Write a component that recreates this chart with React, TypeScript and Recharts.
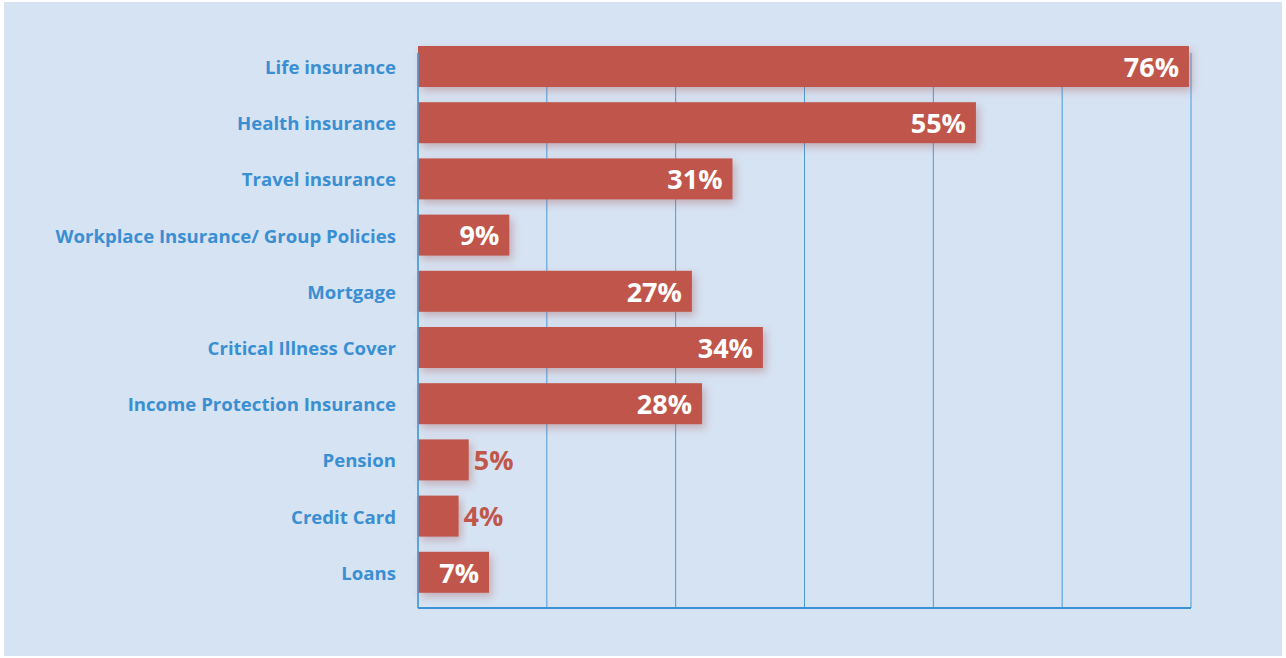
import { BarChart, Bar, XAxis, YAxis, CartesianGrid, LabelList } from 'recharts'

const categories = [
  'Life insurance',
  'Health insurance',
  'Travel insurance',
  'Workplace Insurance/ Group Policies',
  'Mortgage',
  'Critical Illness Cover',
  'Income Protection Insurance',
  'Pension',
  'Credit Card',
  'Loans',
]
const shares = [76, 55, 31, 9, 27, 34, 28, 5, 4, 7]
const gridTicks = [0, 12.7, 25.4, 38.1, 50.8, 63.5, 76.2]

const BAR = '#c0574b'
const BLUE = '#3a8fd2'
const GRID = '#4a9bd8'
const FONT = '"Open Sans", "DejaVu Sans", sans-serif'

const data = categories.map((name, i) => ({ name, value: shares[i] }))

function BarShape(props: any) {
  const { x, y, width, height } = props
  return <rect x={x} y={y} width={width} height={height} fill={BAR} filter="url(#barShadow)" />
}

function ValueLabel(props: any) {
  const { x, y, width, height, value } = props
  const inside = value >= 7
  const cy = y + height / 2
  return (
    <text
      x={inside ? x + width - 10 : x + width + 5}
      y={cy}
      dy="0.38em"
      textAnchor={inside ? 'end' : 'start'}
      fill={inside ? '#ffffff' : BAR}
      fontSize={27}
      fontWeight={700}
      fontFamily={FONT}
    >
      {value}%
    </text>
  )
}

function CategoryTick(props: any) {
  const { x, y, payload } = props
  return (
    <text x={x} y={y} dy="0.42em" textAnchor="end" fill={BLUE} fontSize={18.6} fontWeight={700} fontFamily={FONT}>
      {payload.value}
    </text>
  )
}

export default function App() {
  return (
    <div style={{ position: 'absolute', left: 0, top: 0, width: 1286, height: 658, background: '#ffffff' }}>
      <div style={{ position: 'absolute', left: 4, top: 2, width: 1278, height: 654, background: '#d6e3f3' }} />
      <div style={{ position: 'absolute', left: 0, top: 0 }}>
        <BarChart
          width={1286}
          height={658}
          data={data}
          layout="vertical"
          margin={{ top: 53, right: 95, bottom: 30, left: 18 }}
        >
          <defs>
            <filter id="barShadow" x="-10%" y="-30%" width="130%" height="180%">
              <feDropShadow dx="3" dy="4" stdDeviation="4" floodColor="#a04848" floodOpacity="0.35" />
            </filter>
          </defs>
          <CartesianGrid horizontal={false} stroke={GRID} strokeWidth={1} />
          <XAxis
            type="number"
            domain={[0, 76.2]}
            ticks={gridTicks}
            interval={0}
            height={20}
            tick={() => <g />}
            tickLine={false}
            axisLine={{ stroke: '#3a93d5', strokeWidth: 2 }}
          />
          <YAxis
            type="category"
            dataKey="name"
            width={400}
            padding={{ top: -15, bottom: 8 }}
            tickSize={0}
            tickMargin={22}
            axisLine={{ stroke: GRID, strokeWidth: 1.5 }}
            tickLine={false}
            interval={0}
            tick={CategoryTick}
          />
          <Bar dataKey="value" barSize={41} shape={BarShape} isAnimationActive={false}>
            <LabelList dataKey="value" content={ValueLabel} />
          </Bar>
        </BarChart>
      </div>
    </div>
  )
}
